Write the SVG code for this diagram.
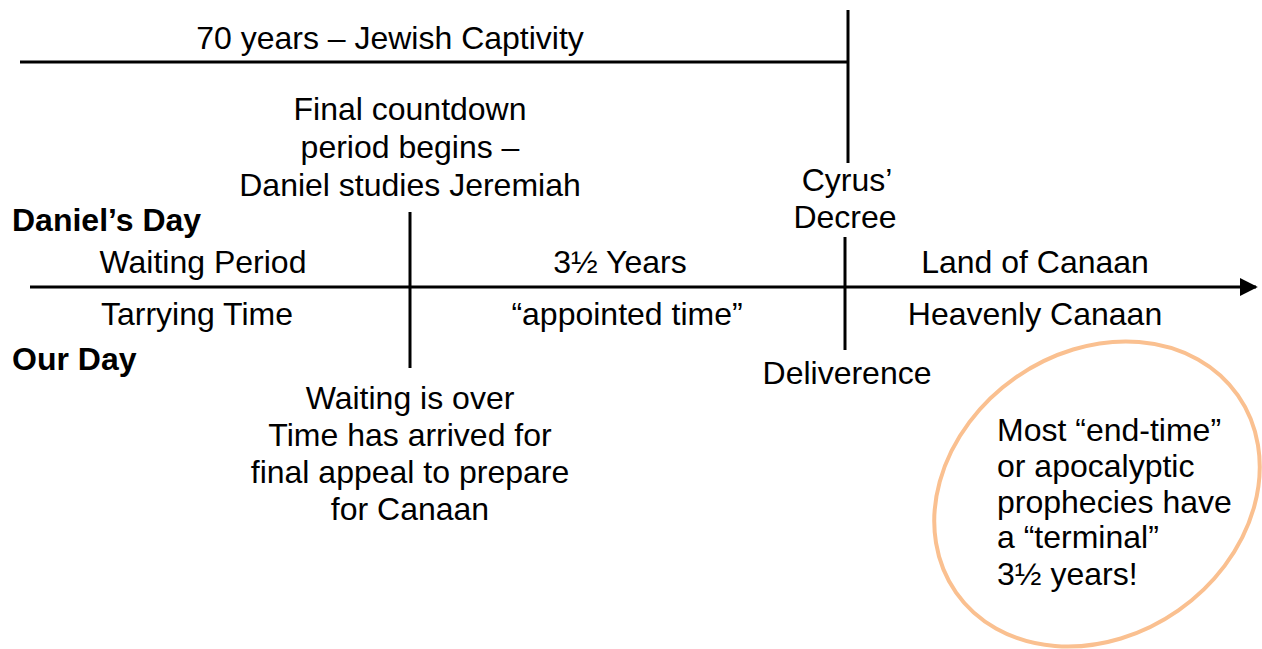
<svg xmlns="http://www.w3.org/2000/svg" width="1262" height="649" viewBox="0 0 1262 649">
<defs>
<style>
text{font-family:"Liberation Sans",Arial,sans-serif;font-size:32px;fill:#000}
.c{text-anchor:middle}
.b{font-weight:bold}
.ln{stroke:#000;stroke-width:3;fill:none}
</style>
<marker id="arr" viewBox="0 0 10 10" refX="9" refY="5" markerWidth="6" markerHeight="6" orient="auto" markerUnits="strokeWidth">
<path d="M0,0L10,5L0,10z" fill="#000"/>
</marker>
</defs>
<rect width="1262" height="649" fill="#fff"/>
<g id="connectors">
<line class="ln" x1="20" y1="62" x2="849" y2="62"/>
<line class="ln" x1="848" y1="10" x2="848" y2="163"/>
<line class="ln" x1="30" y1="287" x2="1256" y2="287" marker-end="url(#arr)"/>
<line class="ln" x1="410" y1="212" x2="410" y2="368"/>
<line class="ln" x1="845" y1="237" x2="845" y2="350"/>
</g>
<g id="title"><text class="c" x="390" y="49">70 years – Jewish Captivity</text></g>
<g id="countdown"><text class="c" x="410" y="120">Final countdown</text><text class="c" x="410" y="158">period begins –</text><text class="c" x="410" y="196">Daniel studies Jeremiah</text></g>
<g id="daniels-day"><text class="b" x="12" y="231">Daniel’s Day</text></g>
<g id="our-day"><text class="b" x="12" y="370">Our Day</text></g>
<g id="waiting"><text class="c" x="203" y="273">Waiting Period</text></g>
<g id="tarrying"><text class="c" x="197" y="325">Tarrying Time</text></g>
<g id="years"><text class="c" x="620" y="273">3½ Years</text></g>
<g id="appointed"><text class="c" x="627" y="325">“appointed time”</text></g>
<g id="land"><text class="c" x="1035" y="273">Land of Canaan</text></g>
<g id="heavenly"><text class="c" x="1035" y="325">Heavenly Canaan</text></g>
<g id="cyrus"><text class="c" x="847" y="191">Cyrus’</text><text class="c" x="845" y="228">Decree</text></g>
<g id="deliverence"><text class="c" x="847" y="384">Deliverence</text></g>
<g id="over"><text class="c" x="410" y="409">Waiting is over</text><text class="c" x="410" y="446">Time has arrived for</text><text class="c" x="410" y="483">final appeal to prepare</text><text class="c" x="410" y="520">for Canaan</text></g>
<g id="note">
<ellipse cx="1097" cy="494" rx="172" ry="142" transform="rotate(-35 1097 494)" fill="none" stroke="#FAC090" stroke-width="4"/>
<text x="997" y="441">Most “end-time”</text><text x="997" y="477">or apocalyptic</text><text x="997" y="513">prophecies have</text><text x="997" y="548">a “terminal”</text><text x="997" y="585">3½ years!</text>
</g>
</svg>
